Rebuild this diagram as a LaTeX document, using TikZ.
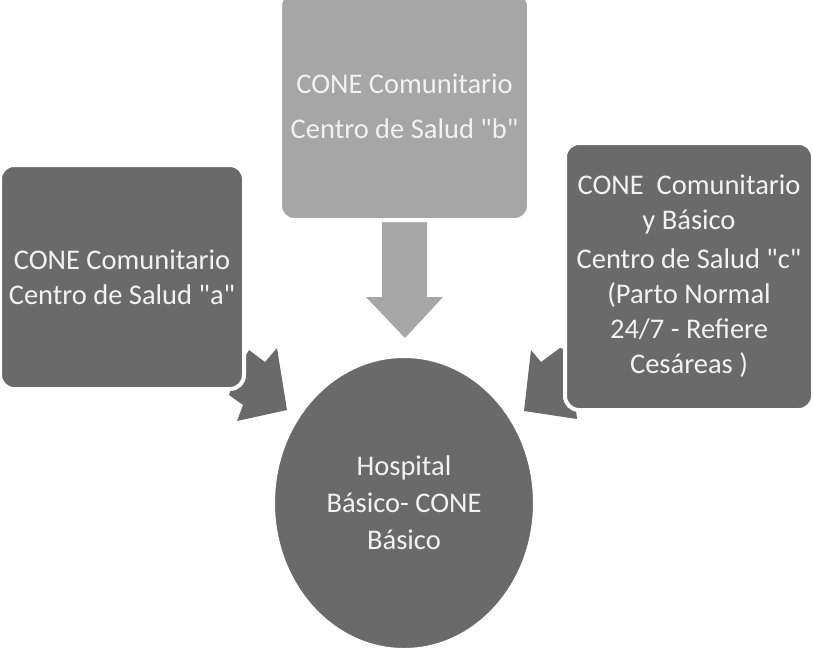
\documentclass[tikz,border=0pt]{standalone}
\usepackage{fontspec}
\setmainfont{Carlito}
\usetikzlibrary{shapes.geometric}
\definecolor{darkbox}{HTML}{6A6A6A}
\definecolor{lightbox}{HTML}{A6A6A6}
\definecolor{txt}{HTML}{F2F2F2}
\newcommand{\dq}{\textquotedbl}
\tikzset{
  boxnode/.style={rectangle, rounded corners=14pt, draw=white, line width=4pt,
    align=center, text=txt, font=\fontsize{28.5}{35}\selectfont, inner sep=0pt},
  darkfill/.style={fill=darkbox},
  lightfill/.style={fill=lightbox},
}
\begin{document}
\begin{tikzpicture}[x=1pt,y=-1pt]
\useasboundingbox (0,0) rectangle (813,657);
% arrows (drawn first, partly hidden by boxes)
\coordinate (la1) at (249,350);
\coordinate (la2) at (265,362);
\coordinate (la3) at (277,348);
\coordinate (la4) at (287,410);
\coordinate (la5) at (237,421);
\coordinate (la6) at (243,405);
\coordinate (la7) at (229,395);
\coordinate (la8) at (236,372);
\fill[darkbox] (la1) -- (la2) -- (la3) -- (la4) -- (la5) -- (la6) -- (la7) -- (la8) -- cycle;
\coordinate (ra1) at (531,350);
\coordinate (ra2) at (541,362);
\coordinate (ra3) at (560,348);
\coordinate (ra4) at (575,352);
\coordinate (ra5) at (575,400);
\coordinate (ra6) at (577,419);
\coordinate (ra7) at (524,411);
\fill[darkbox] (ra1) -- (ra2) -- (ra3) -- (ra4) -- (ra5) -- (ra6) -- (ra7) -- cycle;
\coordinate (da1) at (382,210);
\coordinate (da2) at (427,210);
\coordinate (da3) at (427,297);
\coordinate (da4) at (443,297);
\coordinate (da5) at (405,338);
\coordinate (da6) at (366,297);
\coordinate (da7) at (382,297);
\fill[lightbox] (da1) -- (da2) -- (da3) -- (da4) -- (da5) -- (da6) -- (da7) -- cycle;
% boxes
\node[boxnode, darkfill, minimum width=244pt, minimum height=224pt] (a) at (122,277)
  {CONE Comunitario\\Centro de Salud \dq a\dq};
\node[boxnode, lightfill, minimum width=249pt, minimum height=228pt,
  font=\fontsize{28.5}{45}\selectfont] (b) at (404.5,106)
  {CONE Comunitario\\Centro de Salud \dq b\dq};
\node[boxnode, darkfill, minimum width=248pt, minimum height=267pt] (c) at (689,276.5)
  {CONE\ \ Comunitario\\y Básico\\[4pt]Centro de Salud \dq c\dq\\(Parto Normal\\24/7 - Refiere\\Cesáreas )};
\node[ellipse, draw=white, line width=2pt, fill=darkbox, minimum width=260pt,
  minimum height=292pt, inner sep=0pt, align=center, text=txt,
  font=\fontsize{28.5}{37}\selectfont] (h) at (404,503)
  {Hospital\\Básico- CONE\\Básico};
\end{tikzpicture}
\end{document}
